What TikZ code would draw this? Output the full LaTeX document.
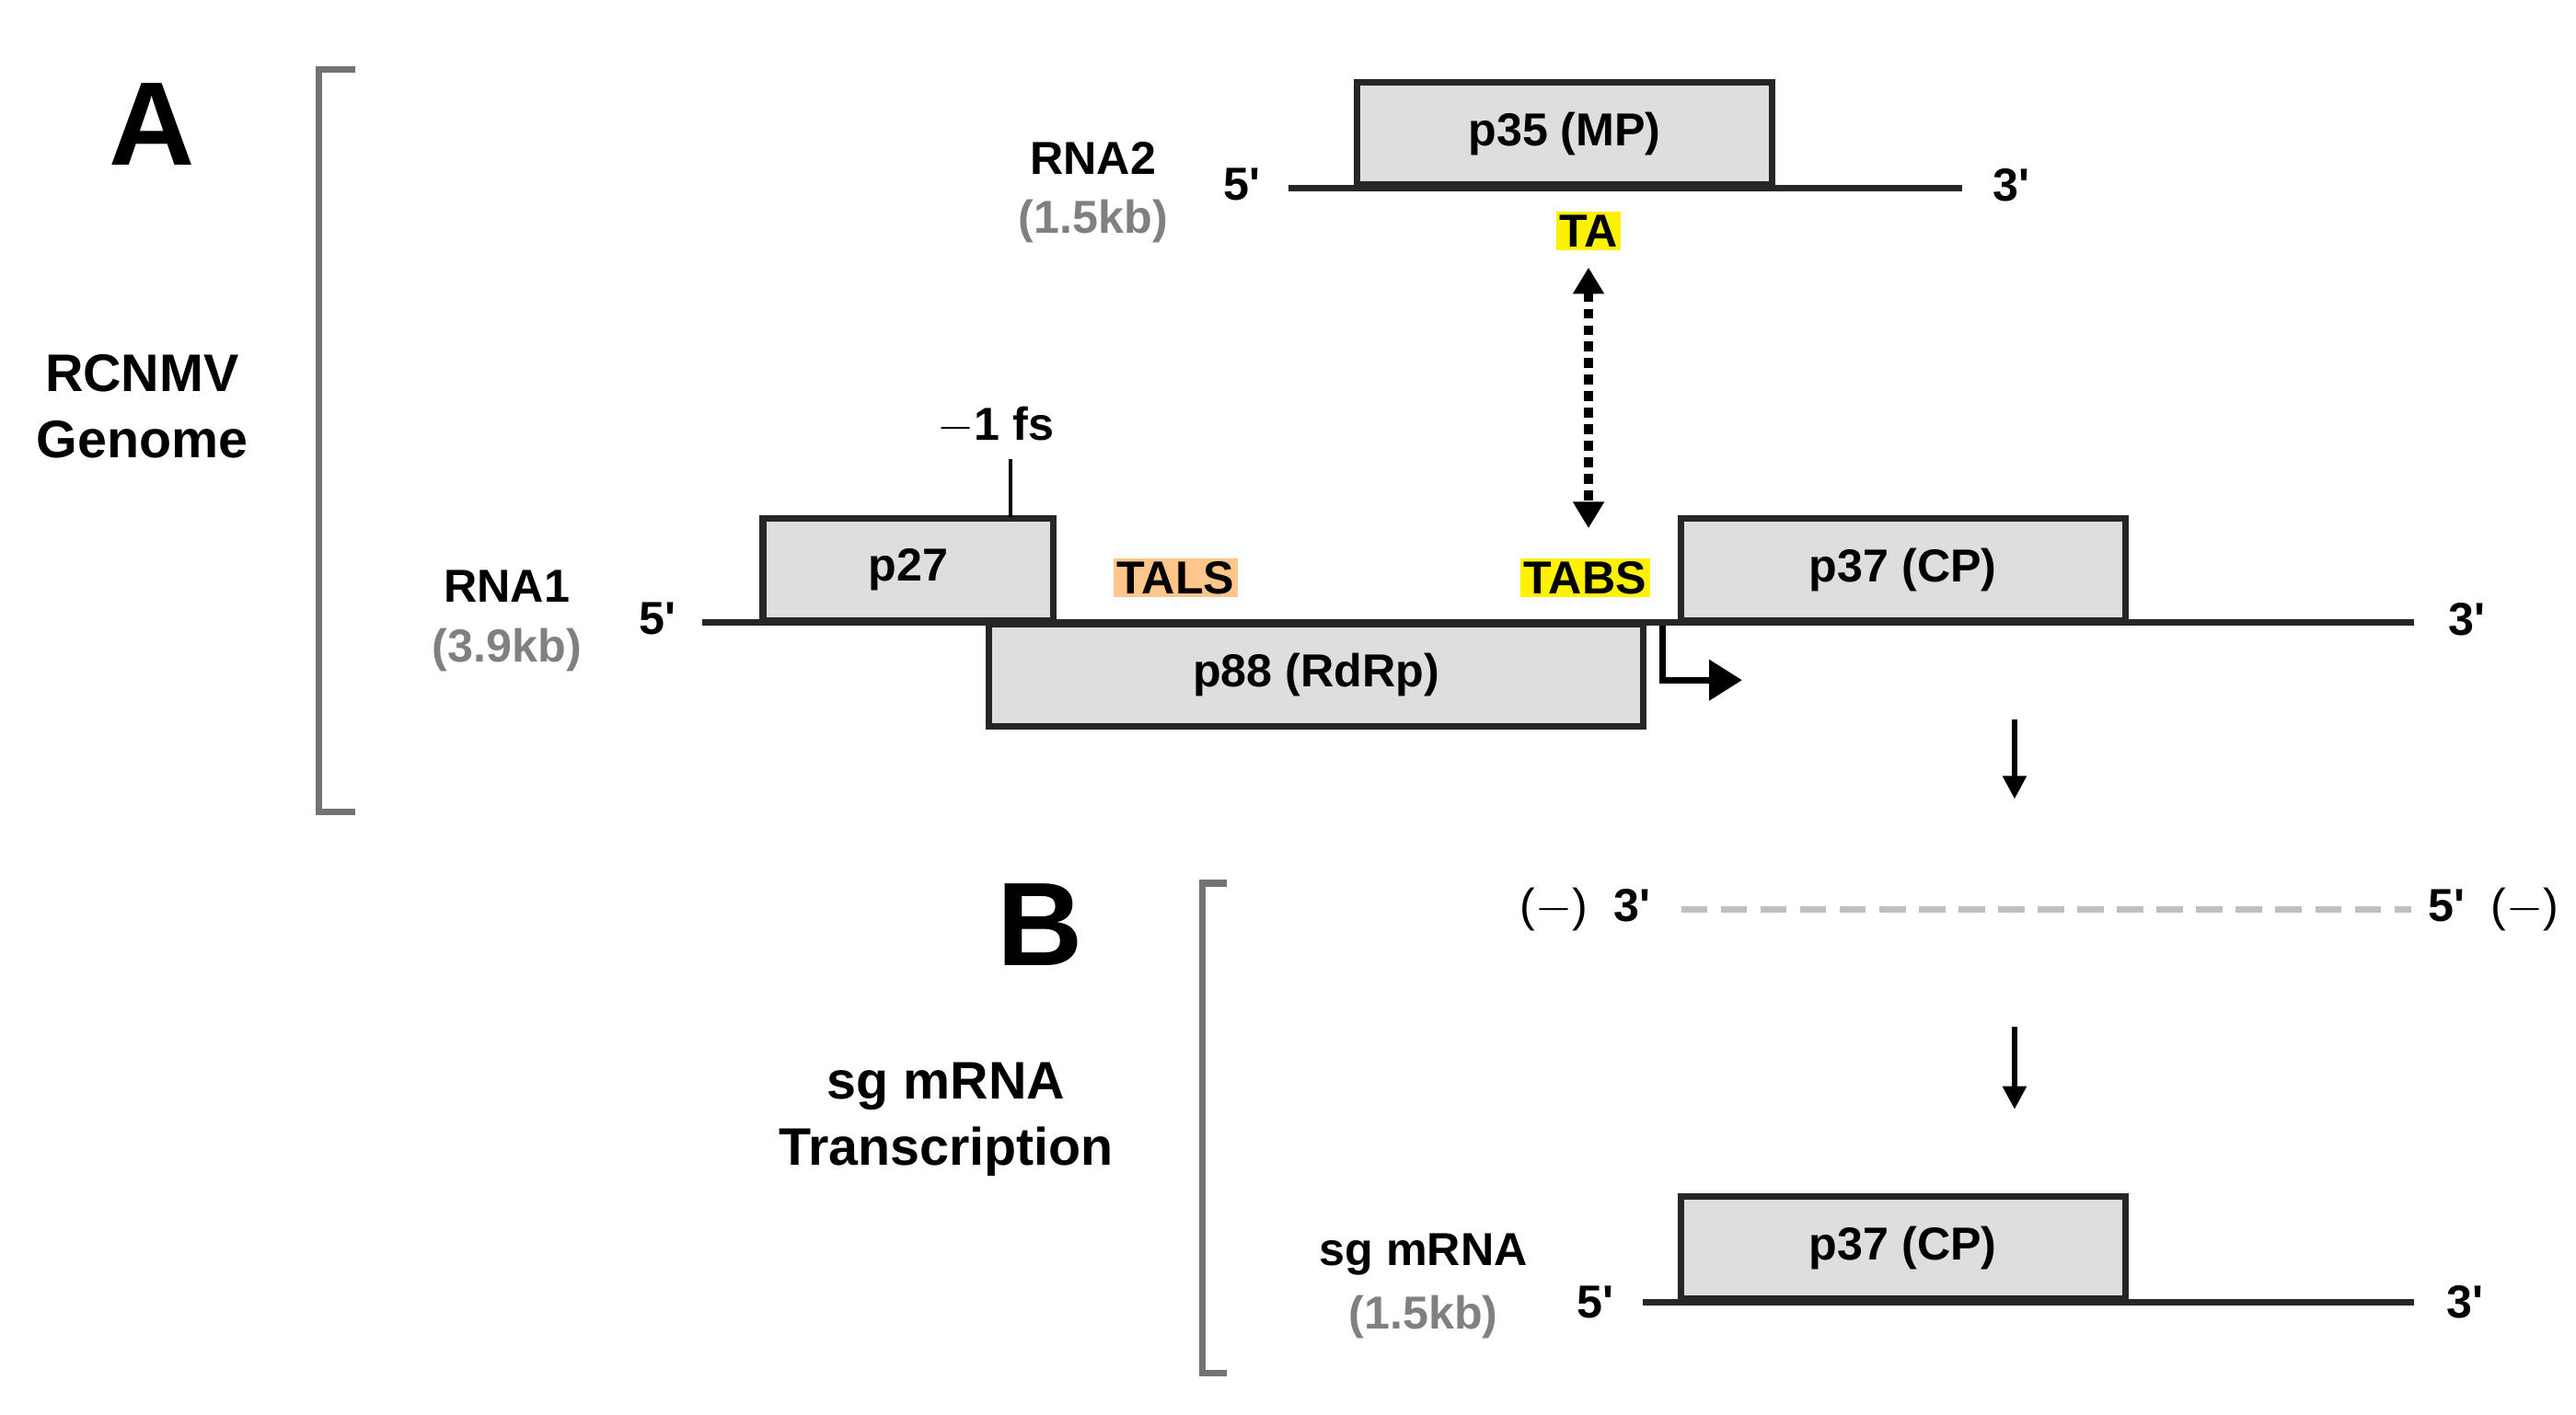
\documentclass[tikz,border=0pt]{standalone}
\usepackage{fontspec}
\setmainfont{Liberation Sans}
\usetikzlibrary{arrows.meta}
\begin{document}
\begin{tikzpicture}[x=0.5pt,y=-0.5pt,
  lbl/.style={font=\bfseries\fontsize{14}{17}\selectfont,inner sep=1pt},
  gl/.style={lbl,text=gray},
  box/.style={draw=black!85,line width=2pt,fill=black!13},
  rna/.style={draw=black!85,line width=2pt},
  brk/.style={draw=black!55,line width=2pt},
  big/.style={font=\bfseries\fontsize{36}{40}\selectfont},
  side/.style={font=\bfseries\fontsize{16}{20}\selectfont,align=center},
  arr/.style={line width=1.5pt,-{Triangle[length=7pt,width=7pt]}}]
\useasboundingbox (0,0) rectangle (1560,857);
% A
\node[big] (A) at (92,75) {A};
\draw[brk] (215,42) -- (193,42) -- (193,492) -- (215,492);
\node[side] (gen) at (86,246) {RCNMV\\Genome};
% RNA2
\coordinate (r2a) at (780,114); \coordinate (r2b) at (1188,114);
\draw[rna] (r2a) -- (r2b);
\node[box,minimum width=251*0.5pt,minimum height=62*0.5pt,lbl] (p35) at (947.5,81) {p35 (MP)};
\node[lbl] (r2five) at (752,112) {5\textquotesingle};
\node[lbl] (r2three) at (1218,112) {3\textquotesingle};
\node[lbl] (rna2) at (662,96) {RNA2};
\node[gl] (kb2) at (662,134) {(1.5kb)};
\node[lbl,fill=yellow] (TA) at (962,140) {TA};
% RNA1
\coordinate (r1a) at (425,377); \coordinate (r1b) at (1462,377);
\draw[rna] (r1a) -- (r1b);
\node[box,minimum width=176*0.5pt,minimum height=62*0.5pt,lbl] (p27) at (550,345) {p27};
\node[box,minimum width=396*0.5pt,minimum height=62*0.5pt,lbl] (p88) at (797,409) {p88 (RdRp)};
\node[box,minimum width=269*0.5pt,minimum height=62*0.5pt,lbl] (p37) at (1152.5,345) {p37 (CP)};
\node[lbl,fill=orange!45] (TALS) at (712,350) {TALS};
\node[lbl,fill=yellow] (TABS) at (960,350) {TABS};
\node[lbl] (r1five) at (398,375) {5\textquotesingle};
\node[lbl] (r1three) at (1494,375) {3\textquotesingle};
\node[lbl] (rna1) at (307,355) {RNA1};
\node[gl] (kb1) at (307,394) {(3.9kb)};
\node[lbl] (fs) at (603,258) {$-$1 fs};
\coordinate (fsb) at (612,313);
\draw[line width=1pt] (612,278) -- (fsb);
\draw[line width=3pt,dotted,{Triangle[length=8pt,width=9pt]}-{Triangle[length=8pt,width=9pt]}] (TA.south) ++(0,10) -- (962,320);
\coordinate (pr0) at (1007,379); \coordinate (pr1) at (1055,412);
\draw[line width=2pt,-{Triangle[length=10pt,width=12pt]}] (pr0) |- (pr1);
\coordinate (d1a) at (1220,436); \coordinate (d1b) at (1220,484);
\draw[arr] (d1a) -- (d1b);
% B
\node[big] (B) at (630,560) {B};
\draw[brk] (743,535) -- (728,535) -- (728,832) -- (743,832);
\node[side] (tr) at (573,678) {sg mRNA\\Transcription};
\coordinate (nga) at (1018,551); \coordinate (ngb) at (1460,551);
\draw[line width=2pt,black!25,dash pattern=on 8pt off 4pt] (nga) -- (ngb);
\node[lbl] (n3) at (960,551) {{\mdseries(}$-${\mdseries)}\ \ 3\textquotesingle};
\node[lbl] (n5) at (1510,551) {5\textquotesingle\ \ {\mdseries(}$-${\mdseries)}};
\coordinate (d2a) at (1220,622); \coordinate (d2b) at (1220,672);
\draw[arr] (d2a) -- (d2b);
\coordinate (sga) at (995,789); \coordinate (sgb) at (1462,789);
\draw[rna] (sga) -- (sgb);
\node[box,minimum width=269*0.5pt,minimum height=62*0.5pt,lbl] (p37b) at (1152.5,756) {p37 (CP)};
\node[lbl] (sg5) at (966,789) {5\textquotesingle};
\node[lbl] (sg3) at (1493,789) {3\textquotesingle};
\node[lbl] (sg) at (862,760) {sg mRNA};
\node[gl] (kb3) at (862,798) {(1.5kb)};
\end{tikzpicture}
\end{document}
